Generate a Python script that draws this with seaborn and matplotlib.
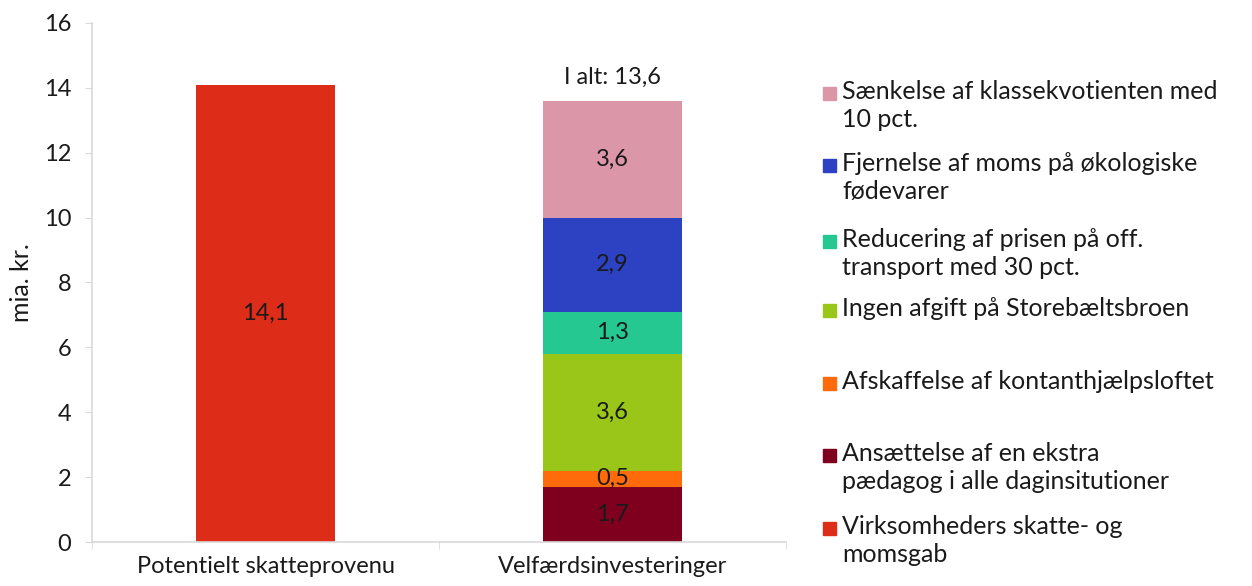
import numpy as np
import pandas as pd
import matplotlib.pyplot as plt
import seaborn as sns
from matplotlib.patches import Rectangle

# Data
categories = ['Potentielt skatteprovenu', 'Velfærdsinvesteringer']
series_names = [
    'Virksomheders skatte- og\nmomsgab',
    'Ansættelse af en ekstra\npædagog i alle daginsitutioner',
    'Afskaffelse af kontanthjælpsloftet',
    'Ingen afgift på Storebæltsbroen',
    'Reducering af prisen på off.\ntransport med 30 pct.',
    'Fjernelse af moms på økologiske\nfødevarer',
    'Sænkelse af klassekvotienten med\n10 pct.',
]
provenu_values = [14.1, 0, 0, 0, 0, 0, 0]
velfaerd_values = [0, 1.7, 0.5, 3.6, 1.3, 2.9, 3.6]
series_colors = ['#DD2C18', '#7E001E', '#FF6A0A', '#99C618', '#26C891', '#2D41C3', '#DB97A8']
total_label = 'I alt: 13,6'

sns.set_style('white')
plt.rcParams['font.family'] = ['Lato', 'DejaVu Sans']

fig = plt.figure(figsize=(12.52, 5.86), dpi=100)
ax = fig.add_axes([0.0735, 0.075, 0.5545, 0.886])

# long table with cumulative tops per category
rows = []
for i, name in enumerate(series_names):
    rows.append({'kategori': categories[0], 'serie': name, 'value': provenu_values[i]})
    rows.append({'kategori': categories[1], 'serie': name, 'value': velfaerd_values[i]})
df = pd.DataFrame(rows)
df['top'] = df.groupby('kategori')['value'].cumsum()
df['bottom'] = df['top'] - df['value']

# draw from top layer down so lower layers cover the upper ones
for i in reversed(range(len(series_names))):
    sub = df[df['serie'] == series_names[i]]
    sns.barplot(data=sub, x='kategori', y='top', order=categories, color=series_colors[i],
                width=0.4, saturation=1, ax=ax, edgecolor='none', linewidth=0)

# value labels in the middle of each segment
for _, r in df.iterrows():
    if r['value'] > 0:
        xi = categories.index(r['kategori'])
        ax.text(xi, (r['bottom'] + r['top']) / 2, f"{r['value']:.1f}".replace('.', ','),
                ha='center', va='center', fontsize=17, color='#1a1a1a')

total = sum(velfaerd_values)
ax.annotate(total_label, xy=(1, total), xytext=(0, 9), textcoords='offset points',
            ha='center', va='bottom', fontsize=17, color='#1a1a1a')

ax.set_ylim(0, 16)
ax.set_yticks(np.arange(0, 17, 2))
ax.set_xlim(-0.5, 1.5)
ax.set_xlabel('')
ax.set_ylabel('mia. kr.', fontsize=18, color='#1a1a1a', labelpad=8)
ax.tick_params(axis='y', labelsize=17, colors='#1a1a1a', length=5, color='#d9d9d9', direction='out', left=True, pad=10)
ax.tick_params(axis='x', labelsize=17, colors='#1a1a1a', length=0, pad=10)
ax.set_xticks([-0.5, 0.5, 1.5], minor=True)
ax.tick_params(axis='x', which='minor', length=5, color='#d9d9d9', bottom=True)
for s in ['top', 'right']:
    ax.spines[s].set_visible(False)
for s in ['left', 'bottom']:
    ax.spines[s].set_color('#d9d9d9')
    ax.spines[s].set_linewidth(1.2)

# legend, top to bottom in reverse stacking order
legend_y = [93, 165, 241, 310, 383, 455, 528]
for k, i in enumerate(reversed(range(len(series_names)))):
    y = 1 - legend_y[k] / 586
    fig.patches.append(Rectangle((823 / 1252, y - 6.5 / 586), 13 / 1252, 13 / 586,
                                 transform=fig.transFigure, color=series_colors[i], figure=fig))
    fig.text(842 / 1252, y + 13 / 586, series_names[i], ha='left', va='top',
             fontsize=18, color='#1a1a1a', linespacing=1.25)

plt.savefig('out.png', dpi=100)
plt.close()
